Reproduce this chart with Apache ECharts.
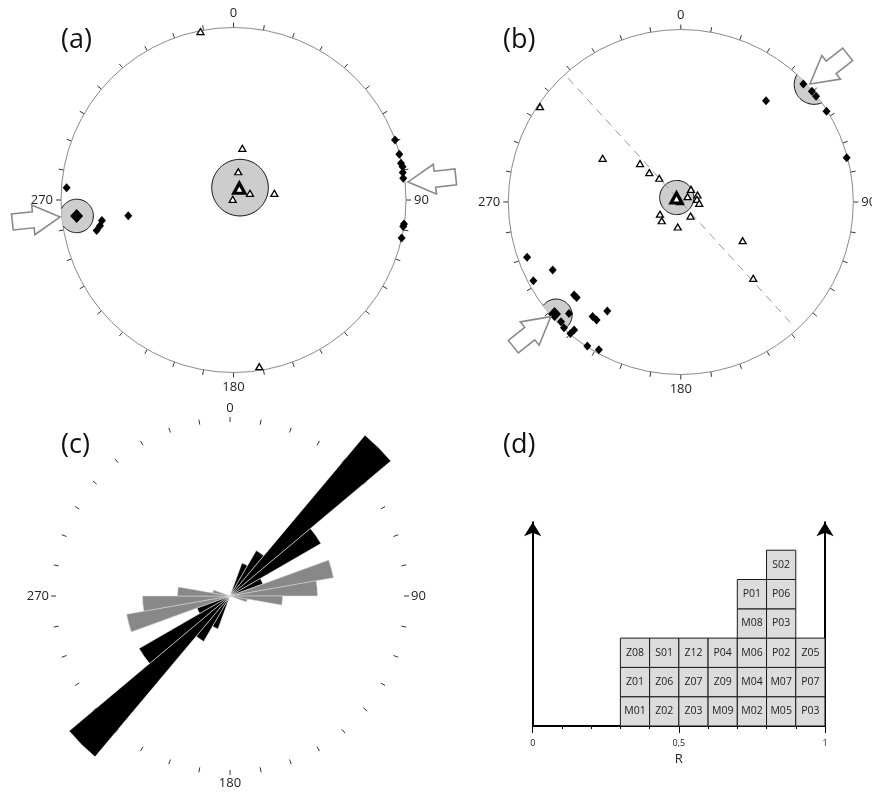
<!DOCTYPE html>
<html>
<head>
<meta charset="utf-8">
<script src="https://cdn.jsdelivr.net/npm/echarts@6/dist/echarts.min.js"></script>
<style>
  html, body { margin: 0; padding: 0; background: #fff; }
  #main { width: 872px; height: 793px; }
</style>
</head>
<body>
<div id="main"></div>
<script>
// ---------- (a) equal-area net: [radial distance (0..1), azimuth deg] ----------
const aTriangles = [[0.995, 348.9], [0.304, 9.7], [0.166, 9.6], [0.103, 67.9], [0.24, 80.7], [0.006, 311], [0.978, 171.2]];
const aMeanTriangle = [[0.076, 26.4]];
const aDiamonds = [[0.97, 274.2], [0.813, 257.4], [0.788, 259.1], [0.772, 261.1], [0.617, 261.5],
  [0.999, 69.6], [0.997, 74.6], [0.994, 77.6], [0.999, 78.9], [0.994, 80.8], [0.992, 82.7],
  [0.998, 98.0], [0.996, 98.9], [0.999, 102.7]];
const aMeanDiamond = [[0.914, 264.2]];
// confidence cones: [radial distance, azimuth, cone radius]
const aCones = [[0.081, 27.9, 0.164], [0.914, 264.2, 0.097]];
// pointer arrows: [radial distance of tip, azimuth of tip, heading deg on screen]
const aArrows = [[1.01, 264.4, -6], [1.017, 84.1, 174]];

// ---------- (b) equal-area net ----------
const bTriangles = [[0.986, 304.1], [0.519, 299.2], [0.325, 313.3], [0.25, 313.1], [0.186, 317.8],
  [0.094, 38.8], [0.05, 51.7], [0.105, 67.3], [0.095, 80.5], [0.107, 94], [0.005, 290],
  [0.14, 239.6], [0.155, 225.5], [0.099, 145.3], [0.146, 187.1], [0.423, 122], [0.61, 136.5]];
const bMeanTriangle = [[0.034, 312.9]];
const bDiamonds = [[0.767, 40.1], [0.986, 46.1], [0.995, 49.8], [0.995, 52.0], [0.995, 58.1], [0.995, 75.1],
  [0.947, 250.2], [0.841, 242.0], [0.969, 241.9], [0.821, 228.9], [0.819, 227.5], [0.762, 214.0],
  [0.838, 217.6], [0.841, 215.5], [0.915, 225.1], [0.982, 225.0], [0.995, 222.9], [0.966, 219.8],
  [0.995, 220.0], [0.995, 213.0], [0.98, 209.0]];
const bMeanDiamond = [[0.979, 228.4]];
const bCones = [[0.035, 317.7, 0.099], [0.976, 227.8, 0.093], [1.03, 48.6, 0.115]];
const bArrows = [[1.014, 47.6, 141.7], [1.005, 228.6, -38.8]];
const bPlaneAzimuth = 137.7;   // vertical plane drawn as dashed trace
const bPlaneReach = 0.97;

// ---------- (c) rose diagram, 10° bins from 0 to 360 ----------
const roseBins = Array.from({ length: 36 }, (_, i) => (i * 10) + '-' + (i * 10 + 10));
const roseBlack = [0, 0, 2, 3, 12, 6, 2, 0, 0, 0, 0, 0, 0, 0, 0, 0, 0, 0,
                   0, 0, 2, 3, 12, 6, 2, 0, 0, 0, 0, 0, 0, 0, 0, 0, 0, 0];
const roseGray  = [0, 0, 0, 0, 0, 0, 0, 6, 5, 3, 1, 0, 0, 0, 0, 0, 0, 0,
                   0, 0, 0, 0, 0, 0, 0, 6, 5, 3, 1, 0, 0, 0, 0, 0, 0, 0];

// ---------- (d) histogram of R ----------
const rBinStarts = [0.3, 0.4, 0.5, 0.6, 0.7, 0.8, 0.9];
const rBinSites = [
  ['M01', 'Z01', 'Z08'],
  ['Z02', 'Z06', 'S01'],
  ['Z03', 'Z07', 'Z12'],
  ['M09', 'Z09', 'P04'],
  ['M02', 'M04', 'M06', 'M08', 'P01'],
  ['M05', 'M07', 'P02', 'P03', 'P06', 'S02'],
  ['P03', 'P07', 'Z05']
];
const rBinWidth = 0.1;
const rTickLabels = { 0: '0', 0.5: '0,5', 1: '1' };

// ---------------------------------------------------------------------------
const FONT = 'Open Sans';
const chart = echarts.init(document.getElementById('main'), null, { renderer: 'canvas' });

function netAngleAxis(idx) {
  return {
    polarIndex: idx, type: 'value', min: 0, max: 360, interval: 10,
    startAngle: 90, clockwise: true,
    axisLine: { show: true, lineStyle: { color: '#8a8a8a', width: 1 } },
    axisTick: { show: true, length: 5, lineStyle: { color: '#333', width: 1 } },
    axisLabel: {
      show: true, margin: 8, fontFamily: FONT, fontSize: 13, color: '#222',
      formatter: v => (v % 90 === 0 && v < 360) ? String(v) : ''
    },
    splitLine: { show: false }, splitArea: { show: false }
  };
}
function hiddenRadius(idx, max) {
  return { polarIndex: idx, type: 'value', min: 0, max: max, show: false,
           splitLine: { show: false }, axisLine: { show: false } };
}

// gray cone, clipped to the primitive circle
function coneItem(params, api) {
  const c0 = api.coord([0, 0]);
  const e = api.coord([1, 0]);
  const R = Math.hypot(e[0] - c0[0], e[1] - c0[1]);
  const p = api.coord([api.value(0), api.value(1)]);
  const rc = api.value(2) * R;
  const n = 96;
  const pts = [], inside = [];
  for (let i = 0; i < n; i++) {
    const t = i / n * Math.PI * 2;
    let x = p[0] + rc * Math.cos(t), y = p[1] + rc * Math.sin(t);
    const dx = x - c0[0], dy = y - c0[1], d = Math.hypot(dx, dy);
    const ok = d <= R;
    if (!ok) { x = c0[0] + dx * R / d; y = c0[1] + dy * R / d; }
    pts.push([x, y]); inside.push(ok);
  }
  // outline only along the part that lies inside the net
  let start = inside.indexOf(false);
  const lines = [];
  if (start < 0) {
    lines.push(pts.concat([pts[0]]));
  } else {
    let cur = [];
    for (let k = 0; k < n; k++) {
      const i = (start + k) % n;
      if (inside[i]) cur.push(pts[i]);
      else if (cur.length) { lines.push(cur); cur = []; }
    }
    if (cur.length) lines.push(cur);
  }
  const children = [{ type: 'polygon', shape: { points: pts }, style: { fill: '#cdcdcd', stroke: null } }];
  lines.forEach(l => children.push({ type: 'polyline', shape: { points: l }, style: { stroke: '#111', lineWidth: 1, fill: null } }));
  return { type: 'group', children };
}

function arrowItem(params, api) {
  const tip = api.coord([api.value(0), api.value(1)]);
  const a = api.value(2) * Math.PI / 180;
  const local = [[0, 0], [-27, -15], [-27, -8], [-48, -8], [-48, 8], [-27, 8], [-27, 15]];
  const ca = Math.cos(a), sa = Math.sin(a);
  const pts = local.map(([x, y]) => [tip[0] + x * ca - y * sa, tip[1] + x * sa + y * ca]);
  return { type: 'polygon', shape: { points: pts }, style: { fill: '#fff', stroke: '#8a8a8a', lineWidth: 1.6 } };
}

function netSeries(idx, cones, arrows, tri, meanTri, dia, meanDia) {
  return [
    { type: 'custom', coordinateSystem: 'polar', polarIndex: idx, renderItem: coneItem, data: cones, z: 1, silent: true },
    { type: 'scatter', coordinateSystem: 'polar', polarIndex: idx, data: dia, symbol: 'diamond', symbolSize: [8, 9],
      itemStyle: { color: '#000', opacity: 1 }, z: 3 },
    { type: 'scatter', coordinateSystem: 'polar', polarIndex: idx, data: meanDia, symbol: 'diamond', symbolSize: [13, 14],
      itemStyle: { color: '#000', opacity: 1 }, z: 3 },
    { type: 'scatter', coordinateSystem: 'polar', polarIndex: idx, data: tri, symbol: 'triangle', symbolSize: [7, 6],
      itemStyle: { color: '#fff', borderColor: '#000', borderWidth: 1.3, opacity: 1 }, z: 4 },
    { type: 'scatter', coordinateSystem: 'polar', polarIndex: idx, data: meanTri, symbol: 'triangle', symbolSize: [11, 10],
      itemStyle: { color: '#fff', borderColor: '#000', borderWidth: 3.2, opacity: 1 }, z: 5 },
    { type: 'custom', coordinateSystem: 'polar', polarIndex: idx, renderItem: arrowItem, data: arrows, z: 6, silent: true }
  ];
}

// histogram boxes
const boxData = [], boxLabels = [];
rBinStarts.forEach((x0, i) => {
  rBinSites[i].forEach((name, lvl) => { boxData.push([x0, lvl]); boxLabels.push(name); });
});
function boxItem(params, api) {
  const x0 = api.value(0), lvl = api.value(1);
  const p0 = api.coord([x0, lvl]);
  const p1 = api.coord([x0 + rBinWidth, lvl + 1]);
  return {
    type: 'group', children: [
      { type: 'rect', shape: { x: p0[0], y: p1[1], width: p1[0] - p0[0], height: p0[1] - p1[1] },
        style: { fill: '#dcdcdc', stroke: '#1a1a1a', lineWidth: 1 } },
      { type: 'text', style: { text: boxLabels[params.dataIndex], x: (p0[0] + p1[0]) / 2, y: (p0[1] + p1[1]) / 2,
        align: 'center', verticalAlign: 'middle', fontSize: 10.5, fontFamily: FONT, fill: '#222' } }
    ]
  };
}

const unitPx = 29.3, yMax = 6.95;

function histYAxis(pos) {
  return {
    gridIndex: 0, type: 'value', position: pos, min: 0, max: yMax,
    axisLine: { show: true, onZero: false, symbol: ['none', 'arrow'], symbolSize: [13, 14],
                lineStyle: { color: '#000', width: 2 } },
    axisTick: { show: false }, axisLabel: { show: false }, splitLine: { show: false }
  };
}

const option = {
  animation: false,
  backgroundColor: '#fff',
  polar: [
    { center: [233.5, 200], radius: 172.5 },
    { center: [680.8, 202], radius: 172.5 },
    { center: [230, 596], radius: 210 },
    { center: [230, 596], radius: 174 }
  ],
  angleAxis: [
    netAngleAxis(0),
    netAngleAxis(1),
    { polarIndex: 2, type: 'category', data: roseBins, startAngle: 90, clockwise: true, boundaryGap: true, show: false },
    Object.assign(netAngleAxis(3), {
      axisLine: { show: false },
      axisTick: { show: true, length: 5, lineStyle: { color: '#333', width: 1 } },
      axisLabel: { show: true, margin: 7, fontFamily: FONT, fontSize: 13, color: '#222',
        formatter: v => (v % 90 === 0 && v < 360) ? String(v) : '' }
    })
  ],
  radiusAxis: [hiddenRadius(0, 1), hiddenRadius(1, 1), hiddenRadius(2, 12), hiddenRadius(3, 1)],
  grid: [{ left: 532.7, top: 726 - unitPx * yMax, width: 292.3, height: unitPx * yMax }],
  xAxis: [
    { gridIndex: 0, type: 'value', position: 'bottom', min: 0, max: 1, interval: 0.1,
      axisLine: { show: true, onZero: false, lineStyle: { color: '#000', width: 2 } },
      axisTick: { show: true, length: 3, lineStyle: { color: '#000', width: 1 } },
      axisLabel: { show: false }, splitLine: { show: false } },
    { gridIndex: 0, type: 'value', position: 'bottom', min: 0, max: 1, interval: 0.5,
      axisLine: { show: false, onZero: false },
      axisTick: { show: true, length: 7, lineStyle: { color: '#000', width: 1 } },
      axisLabel: { show: true, margin: 13, fontSize: 9, fontFamily: FONT, color: '#222',
        formatter: v => rTickLabels[v] !== undefined ? rTickLabels[v] : '' },
      splitLine: { show: false },
      name: 'R', nameLocation: 'middle', nameGap: 27,
      nameTextStyle: { fontSize: 13, fontFamily: FONT, color: '#222' } }
  ],
  yAxis: [histYAxis('left'), histYAxis('right')],
  graphic: [
    { type: 'text', left: 61, top: 27, style: { text: '(a)', fontSize: 27, fontFamily: FONT, fill: '#111' } },
    { type: 'text', left: 503, top: 27, style: { text: '(b)', fontSize: 27, fontFamily: FONT, fill: '#111' } },
    { type: 'text', left: 61, top: 432, style: { text: '(c)', fontSize: 27, fontFamily: FONT, fill: '#111' } },
    { type: 'text', left: 503, top: 432, style: { text: '(d)', fontSize: 27, fontFamily: FONT, fill: '#111' } }
  ],
  series: [
    ...netSeries(0, aCones, aArrows, aTriangles, aMeanTriangle, aDiamonds, aMeanDiamond),
    { type: 'line', coordinateSystem: 'polar', polarIndex: 1, symbol: 'none', z: 2, silent: true,
      data: [[bPlaneReach, bPlaneAzimuth + 180], [bPlaneReach, bPlaneAzimuth]],
      lineStyle: { color: '#999', width: 1, type: [8, 6] } },
    ...netSeries(1, bCones, bArrows, bTriangles, bMeanTriangle, bDiamonds, bMeanDiamond),
    { type: 'bar', coordinateSystem: 'polar', polarIndex: 2, data: roseBlack, barCategoryGap: '0%', barGap: '-100%',
      itemStyle: { color: '#000', borderColor: '#fff', borderWidth: 0.5 }, z: 2, silent: true },
    { type: 'bar', coordinateSystem: 'polar', polarIndex: 2, data: roseGray, barCategoryGap: '0%', barGap: '-100%',
      itemStyle: { color: '#888', borderColor: '#ddd', borderWidth: 0.5 }, z: 3, silent: true },
    { type: 'scatter', coordinateSystem: 'polar', polarIndex: 3, data: [] },
    { type: 'custom', coordinateSystem: 'cartesian2d', xAxisIndex: 0, yAxisIndex: 0, renderItem: boxItem, data: boxData, silent: true }
  ]
};
chart.setOption(option);
</script>
</body>
</html>
